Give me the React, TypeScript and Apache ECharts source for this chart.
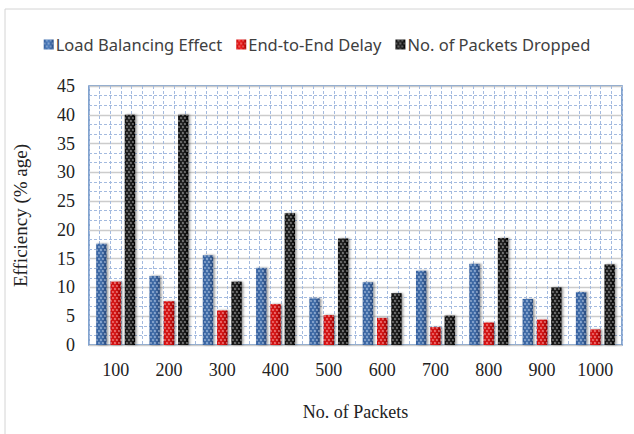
import React, { useEffect, useRef } from "react";
import * as echarts from "echarts";

// Number of packets sent in each run
const packetCounts = ["100", "200", "300", "400", "500", "600", "700", "800", "900", "1000"];

// Efficiency (% age) per run
const loadBalancing = [17.6, 12, 15.6, 13.4, 8.1, 10.9, 12.9, 14.1, 8, 9.2];
const endToEndDelay = [11, 7.6, 6, 7.1, 5.2, 4.7, 3.1, 3.9, 4.4, 2.7];
const packetsDropped = [40, 40, 11, 22.9, 18.5, 9, 5.1, 18.6, 10, 14];

const dots = {
  symbol: "circle",
  symbolSize: 0.75,
  color: "rgba(255,255,255,0.55)",
  dashArrayX: [[2, 1.6], [0, 1.8, 2, 0]],
  dashArrayY: [1.8, 0.4],
};

const barFill = (light: string, mid: string, dark: string) =>
  new echarts.graphic.LinearGradient(0, 0, 1, 0, [
    { offset: 0, color: mid },
    { offset: 0.45, color: light },
    { offset: 1, color: dark },
  ]);

export default function App() {
  const ref = useRef<HTMLDivElement>(null);

  useEffect(() => {
    if (!ref.current) return;
    const chart = echarts.init(ref.current, null, { renderer: "svg" });
    const serif = "'Liberation Serif', 'DejaVu Serif', serif";
    const gridDash = { color: "#a3badf", type: [3, 2], width: 1 };
    const mkBar = (name: string, data: number[], fill: any) => ({
      name,
      type: "bar",
      data,
      barGap: "38%",
      barCategoryGap: "27%",
      itemStyle: {
        color: fill,
        decal: dots,
        shadowColor: "rgba(0,0,0,0.35)",
        shadowBlur: 2,
        shadowOffsetX: 1.5,
        shadowOffsetY: 0,
      },
    });
    chart.setOption({
      animation: false,
      backgroundColor: "#ffffff",
      graphic: [
        {
          type: "rect",
          shape: { x: 5, y: 9, width: 640, height: 440 },
          style: { fill: "none", stroke: "#d4d4d4", lineWidth: 1 },
          silent: true,
        },
      ],
      legend: {
        top: 31,
        left: "center",
        itemWidth: 10,
        itemHeight: 10,
        itemGap: 14,
        icon: "rect",
        textStyle: {
          fontFamily: "'Noto Sans', 'Open Sans', sans-serif",
          fontSize: 16.5,
          color: "#404040",
          padding: [0, 0, 0, -3],
        },
      },
      grid: {
        left: 89,
        right: 12,
        top: 86,
        bottom: 89,
        show: true,
        borderColor: "#5b86c0",
        borderWidth: 1.5,
        backgroundColor: "#ffffff",
      },
      xAxis: [
        {
          type: "category",
          data: packetCounts,
          axisLine: { show: false },
          axisTick: { show: false },
          axisLabel: {
            fontFamily: serif,
            fontSize: 18,
            color: "#222",
            margin: 16,
          },
          name: "No. of Packets",
          nameLocation: "middle",
          nameGap: 58,
          nameTextStyle: { fontFamily: serif, fontSize: 18, color: "#222" },
          z: 3,
        },
        {
          type: "value",
          min: 0,
          max: 50,
          interval: 1,
          show: true,
          axisLine: { show: false },
          axisTick: { show: false },
          axisLabel: { show: false },
          splitLine: { show: true, lineStyle: gridDash },
        },
      ],
      yAxis: {
        type: "value",
        min: 0,
        max: 45,
        interval: 5,
        axisLine: { show: false },
        axisTick: { show: false },
        axisLabel: {
          fontFamily: serif,
          fontSize: 18,
          color: "#222",
          margin: 14,
        },
        splitLine: { show: true, lineStyle: { color: "#cccccc", width: 1.3 } },
        minorTick: { show: false, splitNumber: 3 },
        minorSplitLine: { show: true, lineStyle: gridDash },
        name: "Efficiency (% age)",
        nameLocation: "middle",
        nameGap: 59,
        nameRotate: 90,
        nameTextStyle: { fontFamily: serif, fontSize: 19, color: "#222" },
      },
      series: [
        mkBar("Load Balancing Effect", loadBalancing, barFill("#4f7fc0", "#3460a0", "#2a4f88")),
        mkBar("End-to-End Delay", endToEndDelay, barFill("#ee1c1c", "#d40f0f", "#b00000")),
        mkBar("No. of Packets Dropped", packetsDropped, barFill("#2a2a2a", "#111111", "#000000")),
      ],
    });
    return () => chart.dispose();
  }, []);

  return (
    <div
      ref={ref}
      style={{ position: "absolute", left: 0, top: 0, width: 634, height: 434 }}
    />
  );
}
